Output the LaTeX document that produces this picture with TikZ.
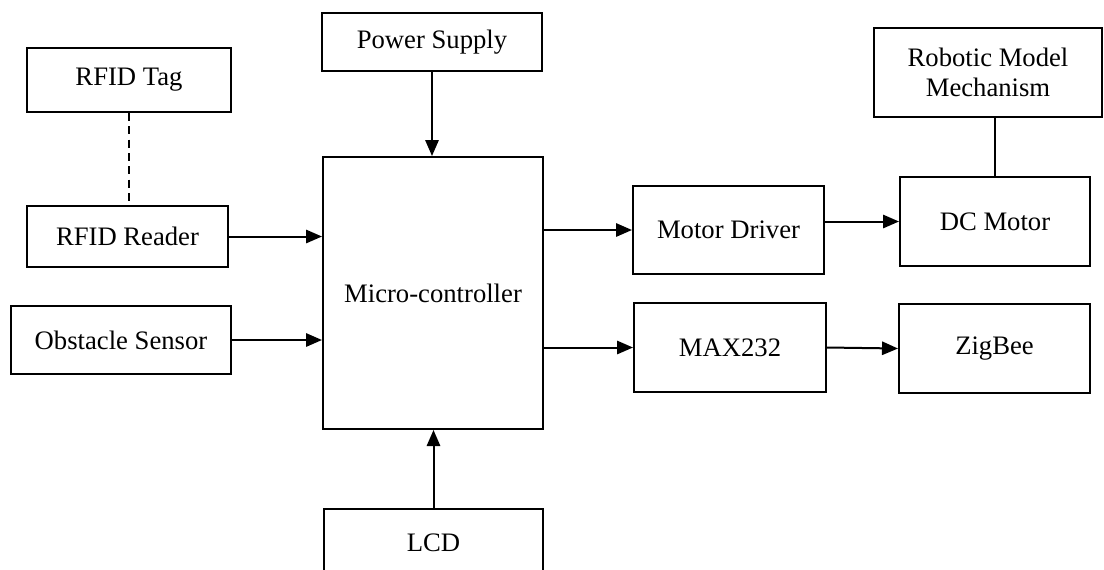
\documentclass[tikz,border=0pt]{standalone}
\usepackage{fontspec}
\setmainfont{Liberation Serif}
\usetikzlibrary{arrows.meta}
\tikzset{
  box/.style={draw, line width=1.5pt, inner sep=0pt, align=center,
    font=\fontsize{20}{23}\selectfont},
  conn/.style={line width=1.5pt},
  arr/.style={conn, -{Triangle[length=12pt,width=10pt]}},
  dashconn/.style={line width=1.1pt, dash pattern=on 6pt off 4pt}
}
\begin{document}
\begin{tikzpicture}[x=0.75pt,y=-0.75pt]
\clip (0,0) rectangle (1104,569);
\fill[white] (0,0) rectangle (1104,569);
\node[box, minimum width=153pt, minimum height=48pt] (tag) at (129,80) {RFID Tag};
\node[box, minimum width=165pt, minimum height=43.5pt] (power) at (432,42) {Power Supply};
\node[box, minimum width=171pt, minimum height=66.75pt] (robot) at (988,72.5) {Robotic Model\\Mechanism};
\node[box, minimum width=165pt, minimum height=204pt] (mc) at (433,293) {Micro-controller};
\node[box, minimum width=150.75pt, minimum height=45.75pt] (reader) at (127.5,236.5) {RFID Reader};
\node[box, minimum width=165pt, minimum height=51pt] (obst) at (121,340) {Obstacle Sensor};
\node[box, minimum width=143.25pt, minimum height=66pt] (driver) at (728.5,230) {Motor Driver};
\node[box, minimum width=142.5pt, minimum height=66.75pt] (dc) at (995,221.5) {DC Motor};
\node[box, minimum width=144pt, minimum height=66.75pt] (max) at (730,347.5) {MAX232};
\node[box, minimum width=143.25pt, minimum height=66.75pt] (zig) at (994.5,348.5) {ZigBee};
\node[box, minimum width=164.25pt, minimum height=51pt] (lcd) at (433.5,543) {LCD};

\draw[dashconn] (tag.south) -- (tag.south |- reader.north);
\draw[arr] (power.south) -- (power.south |- mc.north);
\draw[arr] (reader.east) -- (reader.east -| mc.west);
\draw[arr] (obst.east) -- (obst.east -| mc.west);
\draw[arr] (mc.east |- driver.west) -- (driver.west);
\draw[arr] (mc.east |- max.west) -- (max.west);
\draw[arr] (driver.east |- dc.west) -- (dc.west);
\draw[arr] (max.east) -- (zig.west);
\draw[arr] (lcd.north) -- (lcd.north |- mc.south);
\draw[conn] (dc.north) -- (dc.north |- robot.south);
\end{tikzpicture}
\end{document}
